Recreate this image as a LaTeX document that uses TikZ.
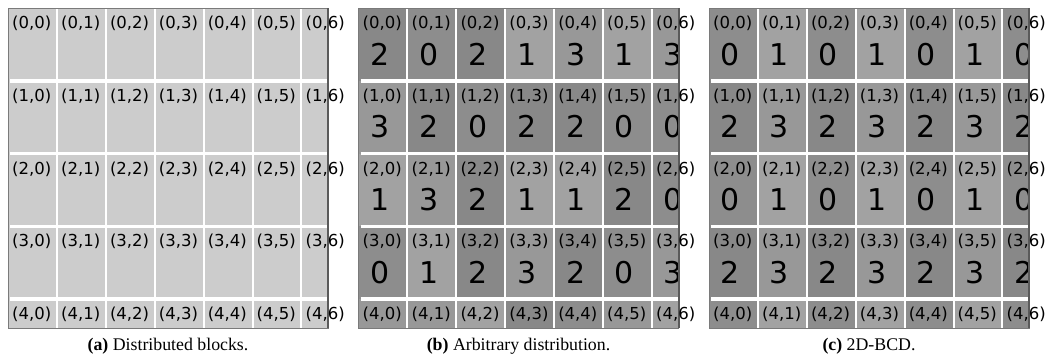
\documentclass[tikz,border=0pt]{standalone}
\usepackage{fontspec}
\setmainfont{Liberation Serif}
\newfontfamily\cellfont{DejaVu Sans}
\usepackage{xcolor}
\usepackage{tikz}

\definecolor{blockgray}{HTML}{CCCCCC}
\definecolor{proc0}{HTML}{8D8D8D}
\definecolor{proc1}{HTML}{A2A2A2}
\definecolor{proc2}{HTML}{888888}
\definecolor{proc3}{HTML}{989898}
\definecolor{framegray}{HTML}{7A7A7A}
\definecolor{edgegray}{HTML}{5A5A5A}

\newcommand{\cellw}{48.9}
\newcommand{\cellh}{72.8}

\tikzset{
  celllabel/.style={anchor=base west, inner sep=0pt, font=\cellfont\fontsize{16.5}{18}\selectfont},
  cellnum/.style={anchor=base, inner sep=0pt, font=\cellfont\fontsize{30}{32}\selectfont},
  colgap/.style={white, line width=2pt},
  rowgap/.style={white, line width=3.5pt},
  subcaption/.style={anchor=base, inner sep=0pt, font=\fontsize{17.8}{20}\selectfont},
}

\begin{document}
\begin{tikzpicture}[x=1pt, y=-1pt]
\useasboundingbox (0,0) rectangle (1050,360);

% (a) plain blocks
\begin{scope}[shift={(8,8)}]
  \begin{scope}
    \clip (0,0) rectangle (320,320);
    \fill[blockgray] (0,0) rectangle (320,320);
    \foreach \j in {1,...,6} \draw[colgap] (\j*\cellw,0) -- (\j*\cellw,320);
    \foreach \i in {1,...,4} \draw[rowgap] (2,\i*\cellh) -- (320,\i*\cellh);
  \end{scope}
  \draw[framegray] (0,0) rectangle (320,320);
  \draw[edgegray, line width=2pt] (320,0) -- (320,320);
  \foreach \i in {0,...,4}
    \foreach \j in {0,...,6}
      \node[celllabel] (a-\i-\j) at (\j*\cellw+4, \i*\cellh+20.5) {(\i,\j)};
  \node[subcaption] (cap-a) at (160,342.5) {\textbf{(a)} Distributed blocks.};
\end{scope}

% (b) owner of each block, arbitrary
\begin{scope}[shift={(358.5,8)}]
  \begin{scope}
    \clip (0,0) rectangle (320,320);
    \foreach \i/\row in {0/{2,0,2,1,3,1,3}, 1/{3,2,0,2,2,0,0}, 2/{1,3,2,1,1,2,0},
                         3/{0,1,2,3,2,0,3}, 4/{3,3,1,2,0,3,1}}
      \foreach \v [count=\j from 0] in \row {
        \fill[proc\v] (\j*\cellw,\i*\cellh) rectangle ++(\cellw,\cellh);
        \ifnum\i<4 \node[cellnum] (b-num-\i-\j) at (\j*\cellw+21.5, \i*\cellh+57) {\v}; \fi
      }
    \foreach \j in {1,...,6} \draw[colgap] (\j*\cellw,0) -- (\j*\cellw,320);
    \foreach \i in {1,...,4} \draw[rowgap] (2,\i*\cellh) -- (320,\i*\cellh);
  \end{scope}
  \draw[framegray] (0,0) rectangle (320,320);
  \draw[edgegray, line width=2pt] (320,0) -- (320,320);
  \foreach \i in {0,...,4}
    \foreach \j in {0,...,6}
      \node[celllabel] (b-\i-\j) at (\j*\cellw+4, \i*\cellh+20.5) {(\i,\j)};
  \node[subcaption] (cap-b) at (160,342.5) {\textbf{(b)} Arbitrary distribution.};
\end{scope}

% (c) 2x2 block-cyclic
\begin{scope}[shift={(709,8)}]
  \begin{scope}
    \clip (0,0) rectangle (320,320);
    \foreach \i/\row in {0/{0,1,0,1,0,1,0}, 1/{2,3,2,3,2,3,2}, 2/{0,1,0,1,0,1,0},
                         3/{2,3,2,3,2,3,2}, 4/{0,1,0,1,0,1,0}}
      \foreach \v [count=\j from 0] in \row {
        \fill[proc\v] (\j*\cellw,\i*\cellh) rectangle ++(\cellw,\cellh);
        \ifnum\i<4 \node[cellnum] (c-num-\i-\j) at (\j*\cellw+21.5, \i*\cellh+57) {\v}; \fi
      }
    \foreach \j in {1,...,6} \draw[colgap] (\j*\cellw,0) -- (\j*\cellw,320);
    \foreach \i in {1,...,4} \draw[rowgap] (2,\i*\cellh) -- (320,\i*\cellh);
  \end{scope}
  \draw[framegray] (0,0) rectangle (320,320);
  \draw[edgegray, line width=2pt] (320,0) -- (320,320);
  \foreach \i in {0,...,4}
    \foreach \j in {0,...,6}
      \node[celllabel] (c-\i-\j) at (\j*\cellw+4, \i*\cellh+20.5) {(\i,\j)};
  \node[subcaption] (cap-c) at (160,342.5) {\textbf{(c)} 2D-BCD.};
\end{scope}
\end{tikzpicture}
\end{document}
